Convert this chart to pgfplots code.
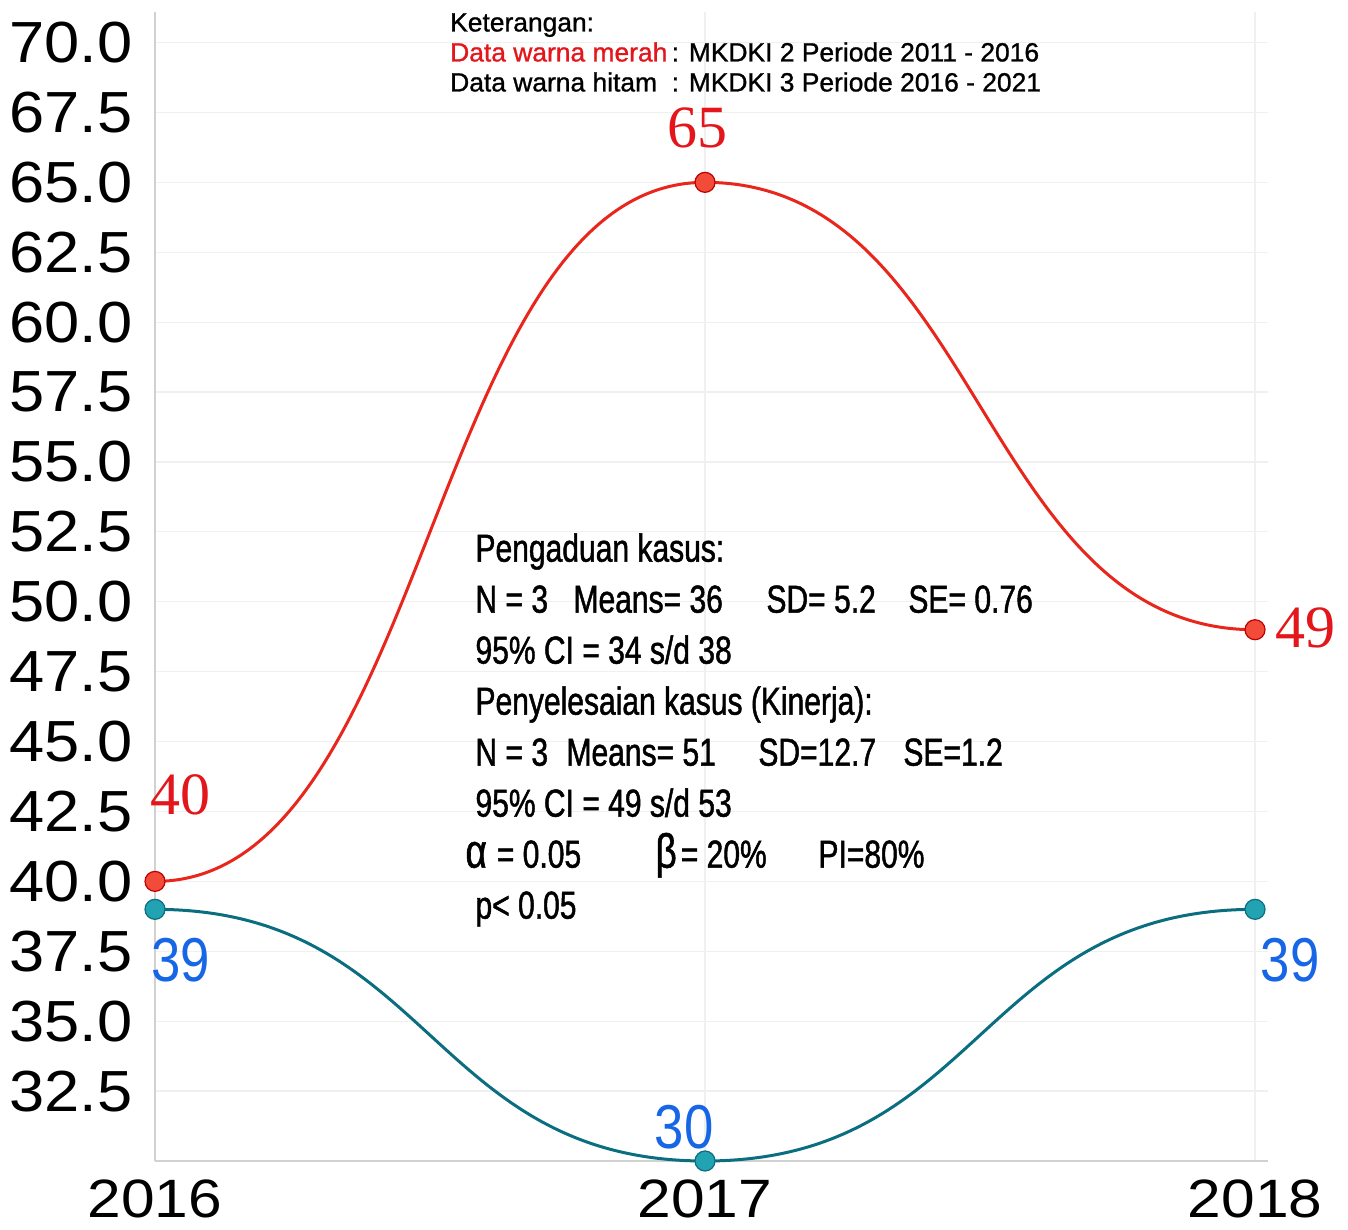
\documentclass[border=0pt]{standalone}
\usepackage{fontspec}
\setmainfont{Liberation Sans}
\newfontfamily\condfont[FakeStretch=0.77,FakeBold=1.2]{Liberation Sans}
\newfontfamily\legfont[FakeBold=1.0]{Liberation Sans}
\newfontfamily\tickfont[FakeStretch=1.09]{Liberation Sans}
\newfontfamily\xtickfont[FakeStretch=1.12]{Liberation Sans}
\newfontfamily\bluefont[FakeStretch=0.85]{Liberation Sans}
\newfontfamily\redfont{Liberation Serif}
\usepackage{pgfplots}
\pgfplotsset{compat=1.18}
\definecolor{redline}{HTML}{E8261C}
\definecolor{redmark}{HTML}{F24B3A}
\definecolor{redtext}{HTML}{E3161B}
\definecolor{tealline}{HTML}{0B6E80}
\definecolor{tealmark}{HTML}{22A3B2}
\definecolor{bluetext}{HTML}{1766E6}
% plot handler: cubic Bezier between successive points with horizontal tangents
\makeatletter
\newif\ifhb@first
\newdimen\hb@px \newdimen\hb@py \newdimen\hb@nx \newdimen\hb@ny
\newdimen\hb@cx \newdimen\hb@cy \newdimen\hb@dx
\def\pgfplothandlerhbez{%
  \def\pgf@plotstreamstart{%
    \global\hb@firsttrue
    \global\let\pgf@plotstreampoint=\hb@point
    \global\let\pgf@plotstreamspecial=\pgfutil@gobble
    \global\let\pgf@plotstreamend=\relax
  }%
}
\def\hb@point#1{%
  \pgf@process{#1}%
  \hb@nx=\pgf@x \hb@ny=\pgf@y
  \ifhb@first
    \pgf@plot@first@action{\pgfqpoint{\hb@nx}{\hb@ny}}%
    \global\hb@firstfalse
  \else
    \hb@dx=\hb@nx \advance\hb@dx by-\hb@px
    \hb@dx=0.5\hb@dx
    \hb@cx=\hb@px \advance\hb@cx by\hb@dx
    \hb@cy=\hb@nx \advance\hb@cy by-\hb@dx
    \pgfpathcurveto{\pgfqpoint{\hb@cx}{\hb@py}}{\pgfqpoint{\hb@cy}{\hb@ny}}{\pgfqpoint{\hb@nx}{\hb@ny}}%
  \fi
  \global\hb@px=\hb@nx \global\hb@py=\hb@ny
}
\tikzset{hbez/.code={\let\tikz@plot@handler=\pgfplothandlerhbez}}
\makeatother
\begin{document}
\begin{tikzpicture}
\useasboundingbox (-77.5pt,-34.5pt) rectangle (596.5pt,580.5pt);
\begin{axis}[
  at={(0,0)}, anchor=south west, scale only axis,
  width=556.5pt, height=574.6pt,
  xmin=2016, xmax=2018.0236, ymin=30, ymax=71.1,
  clip=false,
  axis x line*=bottom, axis y line*=left,
  axis line style={draw=black!18, line width=0.6pt},
  major tick length=0pt,
  xtick={2016,2017,2018}, xticklabels={2016,2017,2018},
  ytick={32.5,35,37.5,40,42.5,45,47.5,50,52.5,55,57.5,60,62.5,65,67.5,70},
  /pgf/number format/assume math mode=true,
  yticklabel style={/pgf/number format/fixed, /pgf/number format/fixed zerofill, /pgf/number format/precision=1,
    font=\tickfont\fontsize{29}{29}\selectfont, inner sep=0pt, xshift=-11pt},
  xticklabel style={font=\xtickfont\fontsize{27}{27}\selectfont, inner sep=0pt, yshift=-9pt},
  grid=major,
  major grid style={draw=black!6, line width=0.6pt},
]
\addplot[redline, line width=1.5pt, hbez, mark=*, mark size=5pt,
  mark options={fill=redmark, draw=red!75!black, line width=0.6pt}]
  coordinates {(2016,40) (2017,65) (2018,49)};
\addplot[tealline, line width=1.5pt, hbez, mark=*, mark size=5pt,
  mark options={fill=tealmark, draw=tealline, line width=0.6pt}]
  coordinates {(2016,39) (2017,30) (2018,39)};

\node[redtext, font=\redfont\fontsize{30}{30}\selectfont] at (axis cs:2016.047,43.09) {40};
\node[redtext, font=\redfont\fontsize{30}{30}\selectfont] at (axis cs:2016.987,66.95) {65};
\node[redtext, font=\redfont\fontsize{30}{30}\selectfont] at (axis cs:2018.091,49.06) {49};
\node[bluetext, font=\bluefont\fontsize{31}{31}\selectfont] at (axis cs:2016.047,37.19) {39};
\node[bluetext, font=\bluefont\fontsize{31}{31}\selectfont] at (axis cs:2016.962,31.22) {30};
\node[bluetext, font=\bluefont\fontsize{31}{31}\selectfont] at (axis cs:2018.064,37.19) {39};

\node[anchor=north west, inner sep=0pt, align=left, font=\legfont\fontsize{13.2}{15}\selectfont]
  at (axis cs:2016.536,71.06)
  {Keterangan:\\
   \textcolor{redtext}{Data warna merah}\,: MKDKI 2 Periode 2011 - 2016\\
   Data warna hitam\ \ : MKDKI 3 Periode 2016 - 2021};

\node[anchor=north west, inner sep=0pt, align=left, font=\condfont\fontsize{19.5}{25.5}\selectfont]
  at (axis cs:2016.582,52.46)
  {Pengaduan kasus:\\
   \makebox[49pt][l]{N = 3}\makebox[96.5pt][l]{Means= 36}\makebox[71pt][l]{SD= 5.2}SE= 0.76\\
   95\% CI = 34 s/d 38\\
   Penyelesaian kasus (Kinerja):\\
   \makebox[45.5pt][l]{N = 3}\makebox[96pt][l]{Means= 51}\makebox[72.5pt][l]{SD=12.7}SE=1.2\\
   95\% CI = 49 s/d 53\\
   \hspace*{-5pt}\makebox[95pt][l]{{\fontsize{24}{24}\selectfont α}\hspace{5pt}= 0.05}\makebox[81.5pt][l]{{\fontsize{24}{24}\selectfont β}\hspace{2pt}= 20\%}PI=80\%\\
   p< 0.05};
\end{axis}
\end{tikzpicture}
\end{document}
